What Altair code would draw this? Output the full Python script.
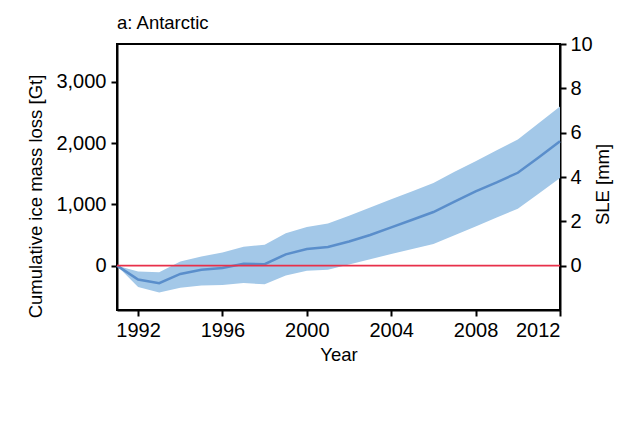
import altair as alt
import pandas as pd

years = list(range(1991, 2013))
mass_loss = [0, -225, -285, -135, -68, -38, 30, 25, 185, 273, 306, 395, 500, 625, 750, 876, 1045, 1215, 1360, 1517, 1770, 2030]
upper = [0, -95, -108, 68, 150, 215, 310, 340, 530, 630, 690, 815, 950, 1085, 1215, 1350, 1535, 1705, 1885, 2062, 2330, 2600]
lower = [0, -350, -440, -360, -325, -315, -285, -305, -160, -85, -65, 20, 105, 190, 272, 355, 497, 640, 785, 930, 1180, 1430]

df = pd.DataFrame({"year": years, "loss": mass_loss, "hi": upper, "lo": lower})
zero_df = pd.DataFrame({"sle": [0]})

FONT = "Liberation Sans"
FS = 20
TFS = 18.5

x = alt.X("year:Q",
          scale=alt.Scale(domain=[1991, 2012], nice=False, zero=False),
          axis=alt.Axis(title="Year", values=[1992, 1996, 2000, 2004, 2008, 2012], format="d",
                        grid=False, tickSize=6, labelPadding=4, titlePadding=5,
                        domainColor="black", domainWidth=2, tickColor="black", tickWidth=2,
                        labelFontSize=FS, titleFontSize=TFS, labelFont=FONT, titleFont=FONT,
                        titleFontWeight="normal", labelColor="black", titleColor="black"))

yleft_scale = alt.Scale(domain=[-724, 3620], nice=False, zero=False)
yleft_axis = alt.Axis(title="Cumulative ice mass loss [Gt]", values=[0, 1000, 2000, 3000], format=",.0f",
                      grid=False, tickSize=6, labelPadding=5, titlePadding=10,
                      titleY=152, titleAlign="center", titleAngle=270,
                      domainColor="black", domainWidth=2, tickColor="black", tickWidth=2,
                      labelFontSize=FS, titleFontSize=TFS, labelFont=FONT, titleFont=FONT,
                      titleFontWeight="normal", labelColor="black", titleColor="black")

band = alt.Chart(df).mark_area(color="#a3c8e8", opacity=1).encode(
    x=x,
    y=alt.Y("lo:Q", scale=yleft_scale, axis=yleft_axis),
    y2="hi:Q",
)
line = alt.Chart(df).mark_line(color="#5a8ecb", strokeWidth=2.5).encode(
    x=x,
    y=alt.Y("loss:Q", scale=yleft_scale, axis=yleft_axis),
)
left = alt.layer(band, line)

red = alt.Chart(zero_df).mark_rule(color="#e8304a", strokeWidth=1.6).encode(
    y=alt.Y("sle:Q", scale=alt.Scale(domain=[-2, 10], nice=False, zero=False),
            axis=alt.Axis(title="SLE [mm]", orient="right", values=[0, 2, 4, 6, 8, 10],
                          grid=False, tickSize=6, labelPadding=4, titlePadding=1,
                          titleAngle=270, titleBaseline="top", titleY=140, titleAlign="center",
                          domainColor="black", domainWidth=2, tickColor="black", tickWidth=2,
                          labelFontSize=FS, titleFontSize=TFS, labelFont=FONT, titleFont=FONT,
                          titleFontWeight="normal", labelColor="black", titleColor="black")),
)

chart = alt.layer(left, red).resolve_scale(y="independent").properties(
    width=443, height=266,
    title=alt.TitleParams("a: Antarctic", anchor="start", frame="group", font=FONT, fontSize=TFS,
                          fontWeight="normal", color="black", offset=2),
    autosize=alt.AutoSizeParams(type="none"),
    padding={"left": 109, "top": 36, "right": 64, "bottom": 120},
).configure_view(stroke="black", strokeWidth=2)

chart.save("out.html", embed_options={"renderer": "svg", "actions": False})
